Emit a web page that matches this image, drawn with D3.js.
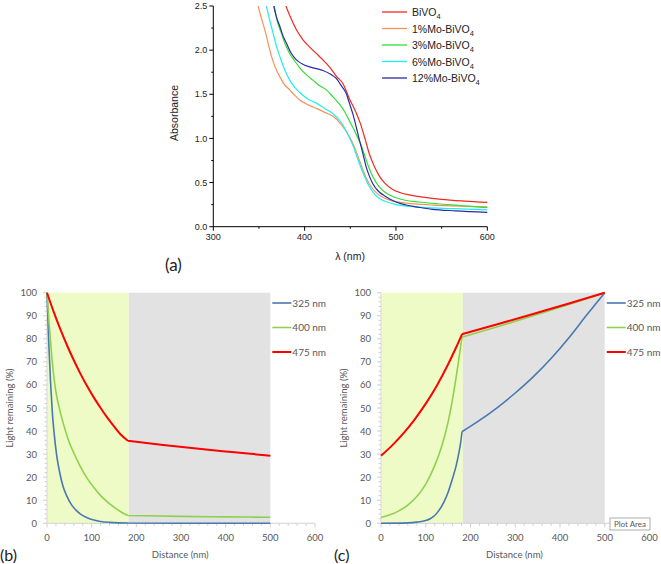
<!DOCTYPE html>
<html><head><meta charset="utf-8">
<script src="https://cdn.jsdelivr.net/npm/d3@7"></script>
<style>body{margin:0;background:#fff}svg{display:block}</style>
</head><body>
<svg id="chart" width="661" height="564"></svg>
<script>
// ---------- Panel (a): absorbance spectra ----------
const seriesNamesA = ["BiVO4", "1%Mo-BiVO4", "3%Mo-BiVO4", "6%Mo-BiVO4", "12%Mo-BiVO4"];
const seriesColorsA = ["#f02a1e", "#f4935a", "#33dd33", "#22eeee", "#2a2aa8"];
const lamBi = [379.5,385,391,398,405,413,420,428,435,442,449,456,461,466,471,476,482,488,496,505,515,530,550,575,600];
const absBi = [2.5,2.36,2.23,2.12,2.04,1.96,1.89,1.80,1.70,1.62,1.45,1.30,1.17,1.00,0.82,0.69,0.57,0.49,0.425,0.385,0.36,0.335,0.31,0.29,0.275];
const lamMo1 = [349,353,356.4,360,363.7,368,372.8,378,383.7,389,394.6,404,412.8,422,431,440,449,455,460,464,468,473,479,486,495,505,520,540,560,580,600];
const absMo1 = [2.5,2.35,2.23,2.08,1.93,1.80,1.70,1.61,1.55,1.49,1.435,1.38,1.34,1.295,1.25,1.16,1.02,0.89,0.75,0.64,0.54,0.45,0.38,0.33,0.295,0.275,0.258,0.245,0.237,0.23,0.225];
const lamMo3 = [366.6,370,374.6,379,383.7,389,394.6,402,409,416,423.7,431,438,444,449,454,458,462,466,470,475,481,488,497,510,525,545,570,600];
const absMo3 = [2.5,2.33,2.19,2.06,1.96,1.88,1.80,1.72,1.66,1.60,1.55,1.47,1.39,1.30,1.20,1.10,1.01,0.92,0.80,0.68,0.56,0.46,0.39,0.34,0.30,0.28,0.26,0.24,0.215];
const lamMo6 = [358.2,362,365.5,369,372.8,378,383.7,389,394.6,403,412.8,422,431,440,449,454,458,462,466,470,475,482,490,500,515,535,560,600];
const absMo6 = [2.5,2.33,2.19,2.05,1.93,1.78,1.66,1.58,1.52,1.45,1.40,1.34,1.28,1.18,1.01,0.89,0.77,0.66,0.56,0.47,0.39,0.32,0.28,0.25,0.23,0.215,0.205,0.19];
const lamMo12 = [366.2,369,372.8,376,380,385,391,398,405.5,413,420,428,434.6,440,445.5,449,452.7,456,460,464,467.3,471,474.5,480,489,500,511,525,540,565,600];
const absMo12 = [2.5,2.38,2.27,2.17,2.08,1.97,1.89,1.84,1.81,1.79,1.77,1.73,1.68,1.60,1.51,1.40,1.28,1.15,0.98,0.82,0.68,0.57,0.49,0.41,0.34,0.28,0.246,0.22,0.197,0.18,0.163];
const ticksAx = [300, 400, 500, 600];
const ticksAy = [0, 0.5, 1.0, 1.5, 2.0, 2.5];

// ---------- Panels (b) and (c): light remaining ----------
const layerBounds = [0, 183, 500];
const interfaceD = 181;
const wlNames = ["325 nm", "400 nm", "475 nm"];
const wlColors = ["#4a78b0", "#8fd14f", "#ff0000"];
const distB325 = [0,4,8,12,16,22,29,36,44,55,65,75,90,105,120,140,160,181,300,400,500];
const lightB325 = [100,78,61,48,39,29,21.5,16,12,8,5.7,4,2.4,1.4,0.8,0.4,0.2,0.1,0.05,0.03,0.02];
const distB400 = [0,5,10,15,20,30,40,50,60,75,90,105,120,135,150,165,181,300,400,500];
const lightB400 = [100,86,74,64,57,48,41,35,30.5,24.5,19.5,15.5,12,9.3,7,5,3.4,3.0,2.8,2.6];
const distB475 = [0,15,30,45,60,75,90,105,120,135,150,165,181,260,340,420,500];
const lightB475 = [100,91.7,84.1,77.1,70.7,64.8,59.4,54.5,50,45.8,42,38.5,35.8,34,32.3,30.8,29.3];
const distC325 = [0,60,80,100,110,120,130,140,150,160,168,174,178,181,220,260,300,340,380,420,460,500];
const lightC325 = [0,0.2,0.5,1.2,2,3.4,5.7,9,13.5,19.5,25,30.5,35,39.7,44.6,50.2,56.5,63.5,71.5,80.5,90.4,100];
const distC400 = [0,20,40,60,80,100,120,135,150,160,170,181,260,340,420,500];
const lightC400 = [2.5,3.7,5.4,7.9,11.6,17,25,33,44,54,66,80.7,85.2,90,94.9,100];
const distC475 = [0,25,50,75,100,125,150,167,181,260,340,420,500];
const lightC475 = [29.3,33.8,39,45,51.9,59.8,69,75.9,82,86.3,90.8,95.3,100];
const ticksBx = [0, 100, 200, 300, 400, 500, 600];
const ticksBy = [0, 10, 20, 30, 40, 50, 60, 70, 80, 90, 100];

const svg = d3.select("#chart");
const fontA = "'Liberation Sans', Arial, sans-serif";
const fontB = "Lato, 'Open Sans', sans-serif";

// ================= Panel (a) =================
const xA = d3.scaleLinear().domain([300, 600]).range([213.3, 487.3]);
const yA = d3.scaleLinear().domain([0, 2.5]).range([226.7, 6]);
const gA = svg.append("g");
gA.append("clipPath").attr("id", "clipA").append("rect")
  .attr("x", xA(300)).attr("y", yA(2.5)).attr("width", xA(600) - xA(300) + 2).attr("height", yA(0) - yA(2.5) + 1);

const seriesA = [[lamBi, absBi], [lamMo1, absMo1], [lamMo3, absMo3], [lamMo6, absMo6], [lamMo12, absMo12]];
const lineA = d3.line().x(d => xA(d[0])).y(d => yA(d[1])).curve(d3.curveMonotoneX);
[1, 3, 2, 0, 4].forEach(i => {
  const pts = seriesA[i][0].map((l, k) => [l, seriesA[i][1][k]]);
  gA.append("path").attr("d", lineA(pts)).attr("fill", "none")
    .attr("stroke", seriesColorsA[i]).attr("stroke-width", 1.2).attr("clip-path", "url(#clipA)");
});

// axes (a)
const axA = gA.append("g").attr("stroke", "#000").attr("stroke-width", 1);
axA.append("line").attr("x1", xA(300)).attr("x2", xA(300)).attr("y1", yA(2.5)).attr("y2", yA(0));
axA.append("line").attr("x1", xA(300)).attr("x2", xA(600)).attr("y1", yA(0)).attr("y2", yA(0));
d3.range(0, 2.51, 0.25).forEach(v => {
  const major = Math.abs(v * 2 - Math.round(v * 2)) < 1e-6;
  axA.append("line").attr("x1", xA(300)).attr("x2", xA(300) - (major ? 4 : 2))
    .attr("y1", yA(v)).attr("y2", yA(v));
});
d3.range(300, 601, 50).forEach(v => {
  const major = v % 100 === 0;
  axA.append("line").attr("x1", xA(v)).attr("x2", xA(v))
    .attr("y1", yA(0)).attr("y2", yA(0) + (major ? 4 : 2));
});
gA.selectAll("text.ya").data(ticksAy).join("text")
  .attr("x", xA(300) - 6).attr("y", d => yA(d) + 3.2).attr("text-anchor", "end")
  .attr("font-family", fontA).attr("font-size", 9).attr("fill", "#222")
  .text(d => d.toFixed(1));
gA.selectAll("text.xa").data(ticksAx).join("text")
  .attr("x", d => xA(d)).attr("y", 240).attr("text-anchor", "middle")
  .attr("font-family", fontA).attr("font-size", 9).attr("fill", "#222")
  .text(d => d);
gA.append("text").attr("transform", "translate(178,113) rotate(-90)").attr("text-anchor", "middle")
  .attr("font-family", fontA).attr("font-size", 10.5).attr("fill", "#222").text("Absorbance");
gA.append("text").attr("x", 350).attr("y", 260).attr("text-anchor", "middle")
  .attr("font-family", fontA).attr("font-size", 10.5).attr("fill", "#222").text("λ (nm)");
gA.append("text").attr("x", 165).attr("y", 271)
  .attr("font-family", fontB).attr("font-size", 17).attr("fill", "#222").text("(a)");

// legend (a)
seriesNamesA.forEach((name, i) => {
  const y = 12 + i * 16.5;
  gA.append("line").attr("x1", 382).attr("x2", 407).attr("y1", y).attr("y2", y)
    .attr("stroke", seriesColorsA[i]).attr("stroke-width", 1.3);
  const t = gA.append("text").attr("x", 412).attr("y", y + 4)
    .attr("font-family", fontA).attr("font-size", 10.5).attr("fill", "#222");
  t.append("tspan").text(name.slice(0, -1));
  t.append("tspan").attr("font-size", 7.5).attr("dy", 3).text(name.slice(-1));
});

// ================= Panels (b) and (c) =================
const yB = d3.scaleLinear().domain([0, 100]).range([523.3, 292.7]);
function lightPanel(x0, x1, series, label) {
  const x = d3.scaleLinear().domain([0, 600]).range([x0, x1]);
  const g = svg.append("g");
  g.append("rect").attr("x", x(layerBounds[0])).attr("y", yB(100))
    .attr("width", x(layerBounds[1]) - x(layerBounds[0])).attr("height", yB(0) - yB(100))
    .attr("fill", "#eefbc6");
  g.append("rect").attr("x", x(layerBounds[1])).attr("y", yB(100))
    .attr("width", x(layerBounds[2]) - x(layerBounds[1])).attr("height", yB(0) - yB(100))
    .attr("fill", "#e2e2e2");
  g.append("line").attr("x1", x(0)).attr("x2", x(600)).attr("y1", yB(0)).attr("y2", yB(0))
    .attr("stroke", "#d4d4d4").attr("stroke-width", 1);
  g.append("line").attr("x1", x(0)).attr("x2", x(0)).attr("y1", yB(0)).attr("y2", yB(100))
    .attr("stroke", "#d9d9d9").attr("stroke-width", 1);
  d3.range(0, 601, 20).forEach(v => {
    g.append("line").attr("x1", x(v)).attr("x2", x(v)).attr("y1", yB(0)).attr("y2", yB(0) + (v % 100 === 0 ? 4 : 2.5))
      .attr("stroke", "#cfcfcf").attr("stroke-width", 1);
  });
  d3.range(0, 101, 2).forEach(v => {
    g.append("line").attr("x1", x(0) - (v % 10 === 0 ? 4 : 2.5)).attr("x2", x(0)).attr("y1", yB(v)).attr("y2", yB(v))
      .attr("stroke", "#cfcfcf").attr("stroke-width", 1);
  });
  g.selectAll("text.yb").data(ticksBy).join("text")
    .attr("x", x(0) - 10).attr("y", d => yB(d) + 3.5).attr("text-anchor", "end")
    .attr("font-family", fontB).attr("font-size", 9.5).attr("fill", "#595959").text(d => d);
  g.selectAll("text.xb").data(ticksBx).join("text")
    .attr("x", d => x(d)).attr("y", 541).attr("text-anchor", "middle")
    .attr("font-family", fontB).attr("font-size", 9.5).attr("fill", "#595959").text(d => d);
  g.append("text").attr("x", x(0) + (x(600) - x(0)) * 0.497).attr("y", 558).attr("text-anchor", "middle")
    .attr("font-family", fontB).attr("font-size", 9.5).attr("fill", "#595959").text("Distance (nm)");
  g.append("text").attr("transform", `translate(${x0 - 34},408) rotate(-90)`).attr("text-anchor", "middle")
    .attr("font-family", fontB).attr("font-size", 9.5).attr("fill", "#595959").text("Light remaining (%)");
  // lines: drawn in two segments so the kink at the interface stays sharp
  const line = d3.line().x(d => x(d[0])).y(d => yB(d[1])).curve(d3.curveMonotoneX);
  series.forEach((s, i) => {
    const pts = s[0].map((d, k) => [d, s[1][k]]);
    const seg1 = pts.filter(p => p[0] <= interfaceD);
    const seg2 = pts.filter(p => p[0] >= interfaceD);
    g.append("path").attr("d", line(seg1) + line(seg2)).attr("fill", "none")
      .attr("stroke", wlColors[i]).attr("stroke-width", i === 2 ? 2 : 1.6)
      .attr("stroke-linejoin", "round");
  });
  wlNames.forEach((n, i) => {
    const y = 303 + i * 24.5;
    g.append("line").attr("x1", x(500) + 2).attr("x2", x(500) + 21).attr("y1", y).attr("y2", y)
      .attr("stroke", wlColors[i]).attr("stroke-width", i === 2 ? 2 : 1.6);
    g.append("text").attr("x", x(500) + 22).attr("y", y + 3.5)
      .attr("font-family", fontB).attr("font-size", 10).attr("fill", "#595959").text(n);
  });
  g.append("text").attr("x", x0 - 47).attr("y", 561)
    .attr("font-family", fontB).attr("font-size", 16).attr("fill", "#222").text(label);
  return { g, x };
}

lightPanel(47, 315, [[distB325, lightB325], [distB400, lightB400], [distB475, lightB475]], "(b)");
const pc = lightPanel(381, 649.5, [[distC325, lightC325], [distC400, lightC400], [distC475, lightC475]], "(c)");
pc.g.append("rect").attr("x", 610).attr("y", 518).attr("width", 40).attr("height", 12)
  .attr("fill", "#fff").attr("stroke", "#9a9a9a").attr("stroke-width", 0.8);
pc.g.append("text").attr("x", 630).attr("y", 527).attr("text-anchor", "middle")
  .attr("font-family", fontB).attr("font-size", 8).attr("fill", "#595959").text("Plot Area");
</script>
</body></html>
